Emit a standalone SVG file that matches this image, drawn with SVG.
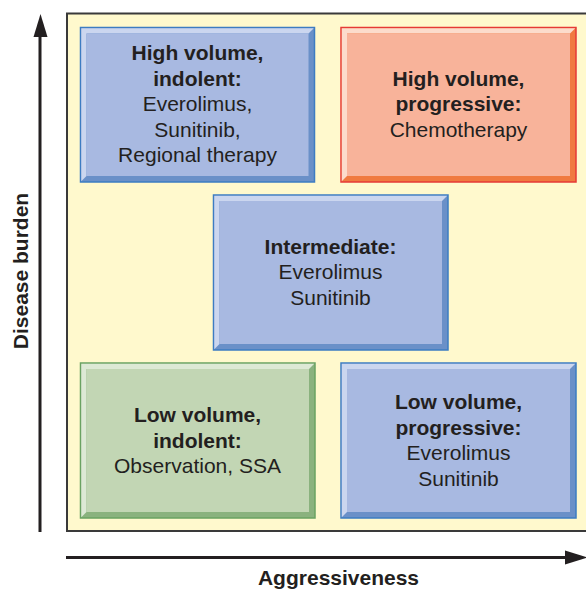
<svg xmlns="http://www.w3.org/2000/svg" width="586" height="589" viewBox="0 0 586 589">
  <style>
    text { font-family: "Liberation Sans", Arial, Helvetica, sans-serif; font-size: 21px; fill: #231f20; text-anchor: middle; }
    .b { font-weight: bold; }
    .axis { stroke: #231f20; stroke-width: 3; fill: none; }
    .head { fill: #231f20; }
    .blue .edge { fill: #6a90c8; stroke: #3d7cc2; stroke-width: 1.5; }
    .blue .lite { fill: #cbd6ef; }
    .blue .face { fill: #a8b9e1; }
    .red .edge { fill: #f07a40; stroke: #e63a36; stroke-width: 1.5; }
    .red .lite { fill: #fcdccc; }
    .red .face { fill: #f8b39a; }
    .green .edge { fill: #8ab27e; stroke: #6aa262; stroke-width: 1.5; }
    .green .lite { fill: #dde9d5; }
    .green .face { fill: #c2d6b4; }
  </style>

  <!-- plot area -->
  <rect x="67" y="13.5" width="525" height="517.5" fill="#fff9cd" stroke="#3a3a3a" stroke-width="2"/>

  <!-- axes -->
  <g id="connectors">
    <line class="axis" x1="40" y1="532" x2="40" y2="36"/>
    <path class="head" d="M33.5,37 L40.5,14 L47.5,37 Z"/>
    <line class="axis" x1="66" y1="557.5" x2="566" y2="557.5"/>
    <path class="head" d="M565,550.5 L588,557.5 L565,564.5 Z"/>
  </g>

  <g id="axis-y">
    <text class="b" transform="translate(27.5,271) rotate(-90)">Disease burden</text>
  </g>
  <g id="axis-x">
    <text class="b" x="338.5" y="585">Aggressiveness</text>
  </g>

  <!-- high volume, indolent -->
  <g id="high-indolent" class="blue">
    <rect class="edge" x="80.5" y="27.5" width="234" height="154.5"/>
    <polygon class="lite" points="81.25,28.25 313.75,28.25 308.5,33.5 86.5,33.5 86.5,176 81.25,181.25"/>
    <rect class="face" x="86.5" y="33.5" width="222" height="142.5"/>
    <text class="b" x="197.5" y="60">High volume,</text>
    <text class="b" x="197.5" y="86">indolent:</text>
    <text x="197.5" y="111">Everolimus,</text>
    <text x="197.5" y="137">Sunitinib,</text>
    <text x="197.5" y="162">Regional therapy</text>
  </g>

  <!-- high volume, progressive -->
  <g id="high-progressive" class="red">
    <rect class="edge" x="341" y="27.5" width="235" height="154.5"/>
    <polygon class="lite" points="341.75,28.25 575.25,28.25 570,33.5 347,33.5 347,176 341.75,181.25"/>
    <rect class="face" x="347" y="33.5" width="223" height="142.5"/>
    <text class="b" x="458.5" y="86">High volume,</text>
    <text class="b" x="458.5" y="111">progressive:</text>
    <text x="458.5" y="137">Chemotherapy</text>
  </g>

  <!-- intermediate -->
  <g id="intermediate" class="blue">
    <rect class="edge" x="213.5" y="195" width="234.5" height="155"/>
    <polygon class="lite" points="214.25,195.75 447.25,195.75 442,201 219.5,201 219.5,344 214.25,349.25"/>
    <rect class="face" x="219.5" y="201" width="222.5" height="143"/>
    <text class="b" x="330.5" y="254">Intermediate:</text>
    <text x="330.5" y="279">Everolimus</text>
    <text x="330.5" y="304.5">Sunitinib</text>
  </g>

  <!-- low volume, indolent -->
  <g id="low-indolent" class="green">
    <rect class="edge" x="80.5" y="363" width="234.5" height="155"/>
    <polygon class="lite" points="81.25,363.75 314.25,363.75 309,369 86.5,369 86.5,512 81.25,517.25"/>
    <rect class="face" x="86.5" y="369" width="222.5" height="143"/>
    <text class="b" x="197.5" y="422">Low volume,</text>
    <text class="b" x="197.5" y="447.5">indolent:</text>
    <text x="197.5" y="473">Observation, SSA</text>
  </g>

  <!-- low volume, progressive -->
  <g id="low-progressive" class="blue">
    <rect class="edge" x="341" y="363" width="235" height="155"/>
    <polygon class="lite" points="341.75,363.75 575.25,363.75 570,369 347,369 347,512 341.75,517.25"/>
    <rect class="face" x="347" y="369" width="223" height="143"/>
    <text class="b" x="458.5" y="409">Low volume,</text>
    <text class="b" x="458.5" y="434.5">progressive:</text>
    <text x="458.5" y="459.5">Everolimus</text>
    <text x="458.5" y="485.5">Sunitinib</text>
  </g>
</svg>
